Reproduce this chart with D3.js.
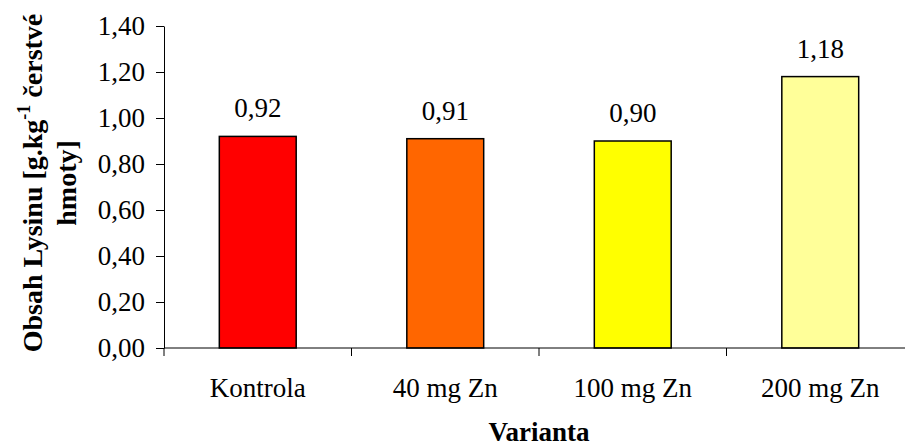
<!DOCTYPE html>
<html>
<head>
<meta charset="utf-8">
<script src="https://cdn.jsdelivr.net/npm/d3@7/dist/d3.min.js"></script>
<style>
  html, body { margin: 0; padding: 0; background: #fff; }
  svg { display: block; font-family: "Liberation Serif", "Times New Roman", serif; }
</style>
</head>
<body>
<svg id="chart" width="905" height="447"></svg>
<script>
// Lysine content per variant
const categories = ["Kontrola", "40 mg Zn", "100 mg Zn", "200 mg Zn"];
const values = [0.92, 0.91, 0.90, 1.18];
const barColors = ["#FF0000", "#FF6600", "#FFFF00", "#FFFF99"];
const yTicks = [0, 0.2, 0.4, 0.6, 0.8, 1.0, 1.2, 1.4];

const fmt = v => d3.format(".2f")(v).replace(".", ",");

const svg = d3.select("#chart");
const plotLeft = 164, plotRight = 914, plotTop = 26, plotBottom = 348;

const x = d3.scaleBand().domain(categories).range([plotLeft, plotRight]).paddingInner(0.59).paddingOuter(0.295);
const xb = d3.scaleBand().domain(categories).range([plotLeft, plotRight]).padding(0);
const y = d3.scaleLinear().domain([0, 1.4]).range([plotBottom, plotTop]);

// Bars
svg.append("g").selectAll("rect").data(values).join("rect")
  .attr("x", (d, i) => x(categories[i]))
  .attr("y", d => y(d))
  .attr("width", x.bandwidth())
  .attr("height", d => y(0) - y(d))
  .attr("fill", (d, i) => barColors[i])
  .attr("stroke", "#000")
  .attr("stroke-width", 1.5);

// Value labels
svg.append("g").selectAll("text").data(values).join("text")
  .attr("x", (d, i) => x(categories[i]) + x.bandwidth() / 2)
  .attr("y", d => y(d) - 19)
  .attr("text-anchor", "middle")
  .attr("font-size", 27)
  .attr("fill", "#000")
  .text(d => fmt(d));

// Y axis
const yAxis = d3.axisLeft(y).tickValues(yTicks).tickFormat(fmt).tickSize(8).tickSizeOuter(0).tickPadding(11);
const gy = svg.append("g").attr("transform", `translate(${plotLeft},0)`).call(yAxis);
gy.selectAll("path, line").attr("stroke", "#000").attr("stroke-width", 1);
gy.selectAll("text").attr("font-size", 27).attr("font-family", "Liberation Serif, Times New Roman, serif").attr("fill", "#000");

// X axis: ticks at category boundaries
const boundaries = categories.map(c => xb(c)).concat([plotRight]);
const gx = svg.append("g");
gx.append("line").attr("x1", plotLeft).attr("x2", plotRight).attr("y1", plotBottom).attr("y2", plotBottom)
  .attr("stroke", "#000").attr("stroke-width", 1);
gx.selectAll("line.tick").data(boundaries).join("line").attr("class", "tick")
  .attr("x1", d => d).attr("x2", d => d).attr("y1", plotBottom).attr("y2", plotBottom + 8)
  .attr("stroke", "#000").attr("stroke-width", 1);
gx.selectAll("text").data(categories).join("text")
  .attr("x", d => xb(d) + xb.bandwidth() / 2)
  .attr("y", 397)
  .attr("text-anchor", "middle")
  .attr("font-size", 27)
  .attr("fill", "#000")
  .text(d => d);

// Axis titles
svg.append("text")
  .attr("x", (plotLeft + plotRight) / 2).attr("y", 441)
  .attr("text-anchor", "middle").attr("font-size", 27).attr("font-weight", "bold")
  .text("Varianta");

const yt = svg.append("text")
  .attr("transform", "translate(0,183) rotate(-90)")
  .attr("text-anchor", "middle").attr("font-size", 28).attr("font-weight", "bold");
const l1 = yt.append("tspan").attr("x", 0).attr("y", 42);
l1.append("tspan").text("Obsah Lysinu [g.kg");
l1.append("tspan").attr("dy", -12).attr("font-size", 18).text("-1");
l1.append("tspan").attr("dy", 12).text(" čerstvé");
yt.append("tspan").attr("x", 0).attr("y", 76).text("hmoty]");
</script>
</body>
</html>
